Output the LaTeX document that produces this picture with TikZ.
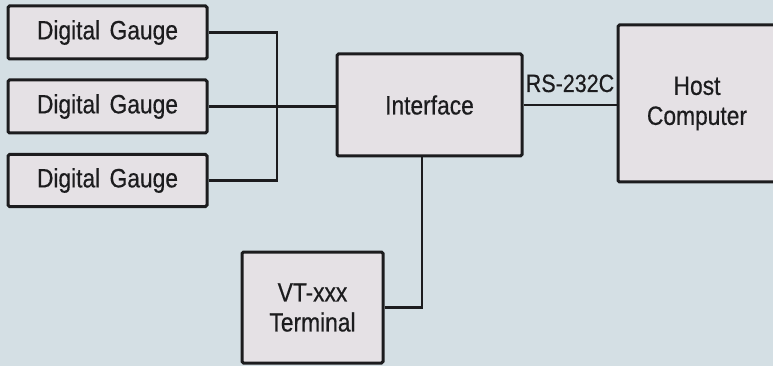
\documentclass[tikz,border=0pt]{standalone}
\usepackage{fontspec}
\setmainfont{Liberation Sans}[FakeStretch=0.86, FakeBold=0.5]
\usepackage{xcolor}
\definecolor{panelblue}{RGB}{212,223,228}
\definecolor{boxgray}{RGB}{229,225,229}
\definecolor{inkblack}{RGB}{28,28,30}
\usetikzlibrary{positioning, calc}

\begin{document}
\begin{tikzpicture}[
    x=1pt, y=-1pt,
    unit/.style={draw=inkblack, fill=boxgray, line width=3pt,
                 rounded corners=1.5pt, inner sep=0pt, align=center,
                 font=\fontsize{26.5}{30}\selectfont, text=inkblack},
    wire/.style={draw=inkblack, line width=2.6pt},
  ]

  %% Background panel
  \fill[panelblue] (0,0) rectangle (773,366);
  \useasboundingbox (0,0) rectangle (773,366);

  %% Gauges
  \node[unit, minimum width=199pt, minimum height=53pt] (g1) at (107.5,32.5) {Digital\hspace{3pt} Gauge};
  \node[unit, minimum width=199pt, minimum height=53pt] (g2) at (107.5,106.5) {Digital\hspace{3pt} Gauge};
  \node[unit, minimum width=199pt, minimum height=52pt] (g3) at (107.5,180.5) {Digital\hspace{3pt} Gauge};

  %% Interface, host and terminal
  \node[unit, minimum width=185pt, minimum height=102pt] (iface) at (429.5,105) {Interface};
  \node[unit, minimum width=158pt, minimum height=157pt] (host) at (697,103.5) {Host\\Computer};
  \node[unit, minimum width=141pt, minimum height=111pt] (term) at (312.5,307.5) {VT-xxx\\Terminal};

  %% Bus from the gauges
  \coordinate (bus) at (277,32.5);
  \draw[wire] (g1.east) -- (bus) |- (g3.east);
  \draw[wire] (g2.east) -- (g2.east -| iface.west);

  %% Serial link
  \draw[wire] (iface.east) -- (iface.east -| host.west);
  \node[font=\fontsize{25}{30}\selectfont, text=inkblack, anchor=base, inner sep=0pt]
    at (570,92) {RS-232C};

  %% Terminal link
  \coordinate (tap) at ([xshift=-7.5pt]iface.south);
  \draw[wire] (tap) |- (term.east);

\end{tikzpicture}
\end{document}
